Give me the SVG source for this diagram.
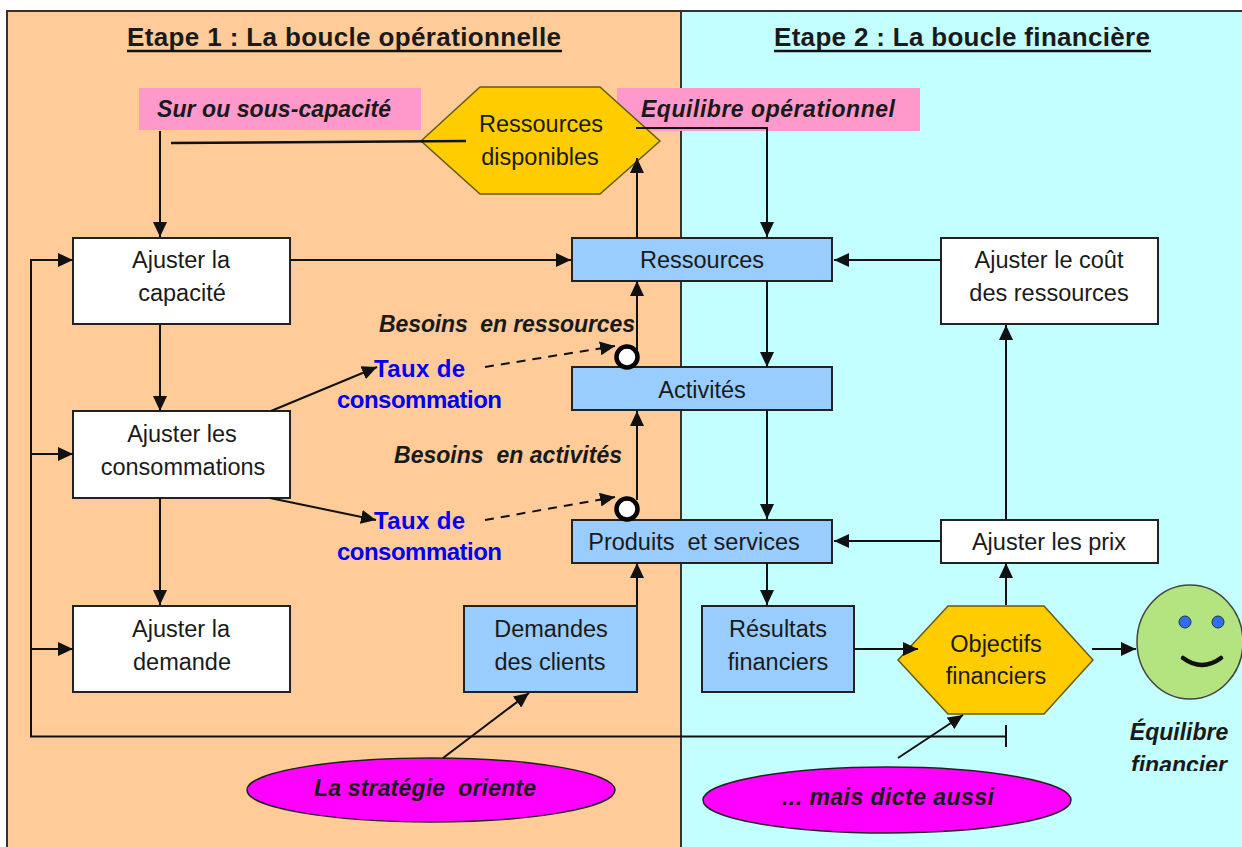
<svg xmlns="http://www.w3.org/2000/svg" width="1242" height="847" viewBox="0 0 1242 847">
<style>
text{font-family:"Liberation Sans",Arial,sans-serif;fill:#1a1a1a}
.n{font-size:23.5px;text-anchor:middle}
.i{font-size:23px;font-weight:bold;font-style:italic;text-anchor:middle}
.t{font-size:26px;font-weight:bold;text-anchor:middle}
.b{font-size:24px;font-weight:bold;text-anchor:middle;fill:#0000f0;letter-spacing:1px}
.box{stroke:#222;stroke-width:2}
.w{fill:#fff}.bl{fill:#99ccff}
.hex{fill:#fc0;stroke:#665a10;stroke-width:1.5}
.el{fill:#f0f;stroke:#222;stroke-width:1.5}
.c{fill:none;stroke:#111;stroke-width:2}
.d{stroke-dasharray:9 7}
</style>
<defs>
<marker id="a" markerUnits="userSpaceOnUse" markerWidth="16" markerHeight="14" refX="15" refY="7" orient="auto"><path d="M0 0L15 7L0 14z" fill="#111"/></marker>
<clipPath id="cut"><rect x="1100" y="715" width="142" height="56"/></clipPath>
</defs>
<rect width="1242" height="847" fill="#fff"/>
<g id="panels">
<rect x="7" y="11" width="674" height="840" fill="#fc9" stroke="#333" stroke-width="2"/>
<rect x="681" y="11" width="565" height="840" fill="#c4ffff" stroke="#333" stroke-width="2"/>
<text class="t" x="344" y="46" textLength="434">Etape 1 : La boucle opérationnelle</text>
<path d="M127 51H562" stroke="#111" stroke-width="2.5"/>
<text class="t" x="962" y="46" textLength="376">Etape 2 : La boucle financière</text>
<path d="M774 51H1151" stroke="#111" stroke-width="2.5"/>
</g>
<g id="node-sur-capacite"><rect x="139" y="88" width="282" height="42" fill="#f9c"/><text class="i" x="274" y="117" textLength="234">Sur ou sous-capacité</text></g>
<g id="node-equilibre-op"><rect x="617" y="88" width="303" height="43" fill="#f9c"/><text class="i" x="768" y="117" textLength="254">Equilibre opérationnel</text></g>
<g id="node-ressources-disponibles"><path class="hex" d="M421 141L480 87H600L660 141L600 194H480Z"/><text class="n" x="541" y="132">Ressources</text><text class="n" x="540" y="165">disponibles</text></g>
<g id="node-ajuster-capacite"><rect class="box w" x="73" y="238" width="217" height="86"/><text class="n" x="181" y="268">Ajuster la</text><text class="n" x="182" y="301">capacité</text></g>
<g id="node-ajuster-consommations"><rect class="box w" x="73" y="411" width="217" height="87"/><text class="n" x="182" y="442">Ajuster les</text><text class="n" x="183" y="475">consommations</text></g>
<g id="node-ajuster-demande"><rect class="box w" x="73" y="606" width="217" height="86"/><text class="n" x="181" y="637">Ajuster la</text><text class="n" x="182" y="670">demande</text></g>
<g id="node-ressources"><rect class="box bl" x="572" y="238" width="260" height="43"/><text class="n" x="702" y="268">Ressources</text></g>
<g id="node-activites"><rect class="box bl" x="572" y="367" width="260" height="43"/><text class="n" x="702" y="398">Activités</text></g>
<g id="node-produits"><rect class="box bl" x="572" y="520" width="260" height="43"/><text class="n" x="694" y="550" xml:space="preserve">Produits  et services</text></g>
<g id="node-demandes"><rect class="box bl" x="464" y="606" width="173" height="86"/><text class="n" x="551" y="637">Demandes</text><text class="n" x="550" y="670">des clients</text></g>
<g id="node-resultats"><rect class="box bl" x="702" y="606" width="152" height="86"/><text class="n" x="778" y="637">Résultats</text><text class="n" x="778" y="670">financiers</text></g>
<g id="node-ajuster-cout"><rect class="box w" x="941" y="238" width="217" height="86"/><text class="n" x="1049" y="268">Ajuster le coût</text><text class="n" x="1049" y="301">des ressources</text></g>
<g id="node-ajuster-prix"><rect class="box w" x="941" y="520" width="217" height="43"/><text class="n" x="1049" y="550">Ajuster les prix</text></g>
<g id="node-objectifs"><path class="hex" d="M898 660L948 606H1044L1093 660L1044 714H948Z"/><text class="n" x="996" y="652">Objectifs</text><text class="n" x="996" y="684">financiers</text></g>
<g id="node-smiley"><ellipse cx="1190" cy="642" rx="53" ry="57" fill="#b4e480" stroke="#444" stroke-width="1.5"/><circle cx="1185" cy="622" r="6" fill="#2f6fee" stroke="#234" stroke-width="1"/><circle cx="1218" cy="622" r="6" fill="#2f6fee" stroke="#234" stroke-width="1"/><path d="M1183 658Q1202 672 1221 658" fill="none" stroke="#111" stroke-width="4.5" stroke-linecap="round"/></g>
<g id="label-equilibre-fin"><text class="i" x="1179" y="740">Équilibre</text><text class="i" x="1179" y="773" clip-path="url(#cut)">financier</text></g>
<g id="node-strategie"><ellipse class="el" cx="431" cy="790" rx="184" ry="32"/><text class="i" x="425" y="796" textLength="222" xml:space="preserve">La stratégie  oriente</text></g>
<g id="node-dicte"><ellipse class="el" cx="887" cy="800" rx="184" ry="33"/><text class="i" x="888" y="805" textLength="212">... mais dicte aussi</text></g>
<g id="connectors">
<path class="c" d="M160 131V237" marker-end="url(#a)"/>
<path d="M171 143L466 141" fill="none" stroke="#111" stroke-width="2.5"/>
<path class="c" d="M636 128H767V237" marker-end="url(#a)"/>
<path class="c" d="M637 238V158" marker-end="url(#a)"/>
<path class="c" d="M291 260H571" marker-end="url(#a)"/>
<path class="c" d="M637 350V281" marker-end="url(#a)"/>
<path class="c" d="M767 281V367" marker-end="url(#a)"/>
<path class="c" d="M767 411V519" marker-end="url(#a)"/>
<path class="c" d="M940 260H834" marker-end="url(#a)"/>
<path class="c" d="M940 541H834" marker-end="url(#a)"/>
<path class="c" d="M1006 519V325" marker-end="url(#a)"/>
<path class="c" d="M1006 605V563" marker-end="url(#a)"/>
<path class="c" d="M160 325V411" marker-end="url(#a)"/>
<path class="c" d="M160 498V605" marker-end="url(#a)"/>
<path class="c" d="M1006 736.500H31V260H73" marker-end="url(#a)"/>
<path class="c" d="M1006 725V747"/>
<path class="c" d="M31 454H73" marker-end="url(#a)"/>
<path class="c" d="M31 649H73" marker-end="url(#a)"/>
<path class="c" d="M271 411L377 367" marker-end="url(#a)"/>
<path class="c" d="M270 498L376 520" marker-end="url(#a)"/>
<path class="c d" d="M485 367L615 346" marker-end="url(#a)"/>
<path class="c d" d="M485 520L615 497" marker-end="url(#a)"/>
<path class="c" d="M637 500V411" marker-end="url(#a)"/>
<path class="c" d="M637 605V563" marker-end="url(#a)"/>
<path class="c" d="M767 563V605" marker-end="url(#a)"/>
<path class="c" d="M855 649H918" marker-end="url(#a)"/>
<path class="c" d="M1092 649H1136" marker-end="url(#a)"/>
<path class="c" d="M443 758L529 693" marker-end="url(#a)"/>
<path class="c" d="M898 758L963 715" marker-end="url(#a)"/>
</g>
<g id="labels">
<text class="i" x="507" y="332" textLength="256" xml:space="preserve">Besoins  en ressources</text>
<text class="i" x="508" y="463" textLength="228" xml:space="preserve">Besoins  en activités</text>
<text class="b" x="420" y="377" textLength="92">Taux de</text><text class="b" x="420" y="408" textLength="166">consommation</text>
<text class="b" x="420" y="529" textLength="92">Taux de</text><text class="b" x="420" y="560" textLength="166">consommation</text>
</g>
<g id="markers-circles"><circle cx="627" cy="357" r="10.500" fill="#fff" stroke="#000" stroke-width="4.500"/><circle cx="627" cy="509" r="10.500" fill="#fff" stroke="#000" stroke-width="4.500"/></g>
</svg>
